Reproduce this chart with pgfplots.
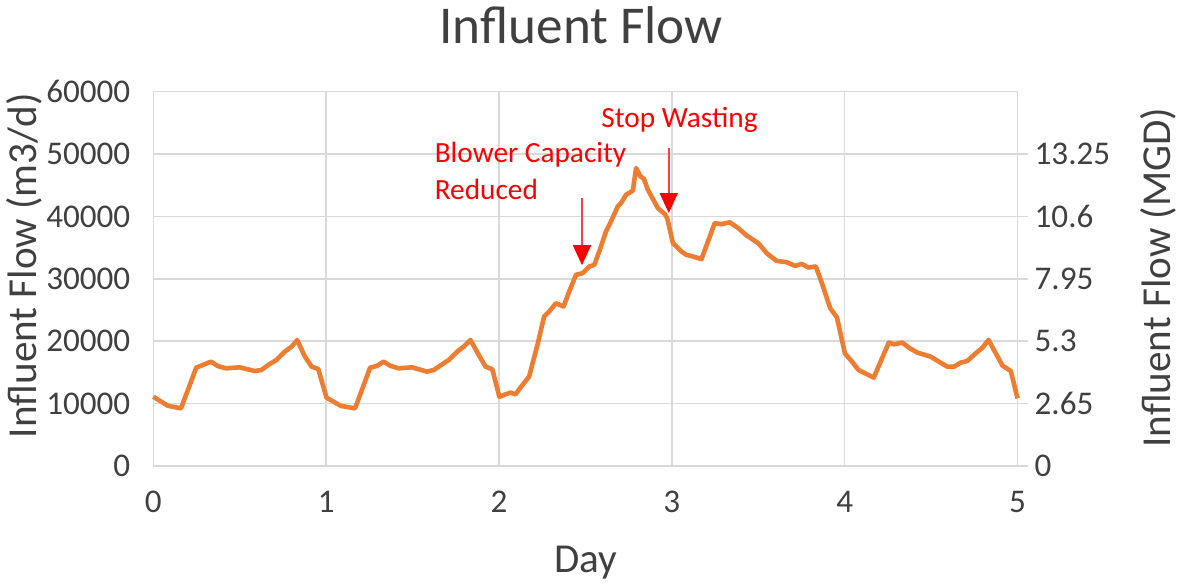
\documentclass[border=0pt]{standalone}
\usepackage{pgfplots}
\pgfplotsset{compat=1.18}
\usepackage{fontspec}
\setmainfont{Carlito}
\usetikzlibrary{arrows.meta}
\definecolor{lineorange}{HTML}{ED7D31}
\definecolor{gridgray}{HTML}{D9D9D9}
\definecolor{txtgray}{HTML}{404040}
\definecolor{arrowred}{HTML}{FF4040}
\begin{document}
\begin{tikzpicture}
\begin{axis}[
  scale only axis,
  width=430.5pt, height=186.5pt,
  xmin=0, xmax=5, ymin=0, ymax=60000,
  xtick={0,1,2,3,4,5},
  ytick={0,10000,20000,30000,40000,50000,60000},
  scaled y ticks=false,
  grid=major,
  major grid style={gridgray, line width=0.75pt},
  axis line style={draw=none},
  major tick length=0pt,
  /pgf/number format/1000 sep={},
  /pgf/number format/assume math mode=true,
  ticklabel style={font=\fontsize{16.5}{18}\selectfont, text=txtgray},
  yticklabel style={xshift=-8pt},
  xticklabel style={yshift=-9pt},
  xlabel={Day},
  ylabel={Influent Flow (m3/d)},
  every axis x label/.style={at={(axis description cs:0.5,-0.257)}, anchor=center, font=\fontsize{20.5}{24}\selectfont, text=txtgray},
  every axis y label/.style={at={(axis description cs:-0.149,0.535)}, rotate=90, anchor=center, font=\fontsize{20.5}{24}\selectfont, text=txtgray},
  title={Influent Flow},
  every axis title/.style={at={(axis description cs:0.495,1.177)}, anchor=center, font=\fontsize{26.5}{30}\selectfont, text=txtgray},
  clip=false,
]
\addplot[lineorange, line width=2.3pt, line join=round] coordinates {
(0.000,11100) (0.083,9660) (0.160,9230) (0.248,15760) (0.286,16180) (0.334,16720)
(0.373,16020) (0.421,15650) (0.499,15810) (0.587,15220) (0.625,15380) (0.664,16180)
(0.712,16980) (0.761,18330) (0.800,19130) (0.832,20190) (0.877,17530) (0.916,15920)
(0.954,15540) (1.002,10950) (1.085,9630) (1.167,9230) (1.254,15760) (1.293,16020)
(1.332,16720) (1.370,16080) (1.419,15650) (1.496,15810) (1.583,15120) (1.622,15380)
(1.671,16290) (1.709,16980) (1.758,18330) (1.796,19130) (1.835,20190) (1.883,17780)
(1.922,15920) (1.961,15500) (2.002,11100) (2.038,11480) (2.067,11750) (2.096,11480)
(2.125,12600) (2.174,14320) (2.222,19390) (2.261,23950) (2.290,24750) (2.329,26080)
(2.373,25550) (2.406,27960) (2.445,30630) (2.484,30900) (2.522,31970) (2.551,32230)
(2.580,34380) (2.619,37590) (2.648,39200) (2.687,41600) (2.706,42130) (2.735,43470)
(2.774,44110) (2.793,47750) (2.818,46420) (2.838,46040) (2.861,44270) (2.919,41330)
(2.958,40400) (2.973,39730) (3.006,35710) (3.055,34380) (3.084,33840) (3.122,33580)
(3.171,33150) (3.248,38920) (3.287,38760) (3.335,39040) (3.384,38120) (3.432,36950)
(3.500,35710) (3.548,34110) (3.606,32870) (3.664,32660) (3.713,32070) (3.751,32390)
(3.790,31810) (3.833,31970) (3.868,29300) (3.916,25280) (3.955,23800) (4.001,18060)
(4.042,16720) (4.080,15380) (4.168,14160) (4.255,19780) (4.284,19500) (4.333,19780)
(4.371,18970) (4.420,18170) (4.497,17530) (4.545,16720) (4.593,15920) (4.632,15920)
(4.671,16560) (4.709,16820) (4.758,18060) (4.797,18970) (4.832,20190) (4.874,18060)
(4.913,16080) (4.961,15220) (5.000,10830)
};
\draw[arrowred, line width=0.9pt, -{Triangle[width=9pt,length=10pt,color=red]}] (axis cs:2.48,42940) -- (axis cs:2.48,32180);
\draw[arrowred, line width=0.9pt, -{Triangle[width=9pt,length=10pt,color=red]}] (axis cs:2.982,50960) -- (axis cs:2.982,40530);
\node[anchor=base west, inner sep=0pt, text=red, font=\fontsize{14.6}{17}\selectfont] at (axis cs:1.626,48660) {Blower Capacity};
\node[anchor=base west, inner sep=0pt, text=red, font=\fontsize{14.6}{17}\selectfont] at (axis cs:1.626,42700) {Reduced};
\node[anchor=base west, inner sep=0pt, text=red, font=\fontsize{14.6}{17}\selectfont] at (axis cs:2.590,54290) {Stop Wasting};
\end{axis}
\begin{axis}[
  scale only axis,
  width=430.5pt, height=186.5pt,
  xmin=0, xmax=5, ymin=0, ymax=15.9,
  hide x axis,
  axis y line*=right,
  axis line style={draw=none},
  ytick={0,2.65,5.3,7.95,10.6,13.25},
  yticklabels={0,2.65,5.3,7.95,10.6,13.25},
  tick align=outside,
  major tick length=5pt,
  major tick style={gridgray, line width=0.75pt},
  /pgf/number format/assume math mode=true,
  ticklabel style={font=\fontsize{16.5}{18}\selectfont, text=txtgray},
  ylabel={Influent Flow (MGD)},
  every axis y label/.style={at={(axis description cs:1.163,0.503)}, rotate=90, anchor=center, font=\fontsize{20.5}{24}\selectfont, text=txtgray},
]
\end{axis}
\end{tikzpicture}
\end{document}
